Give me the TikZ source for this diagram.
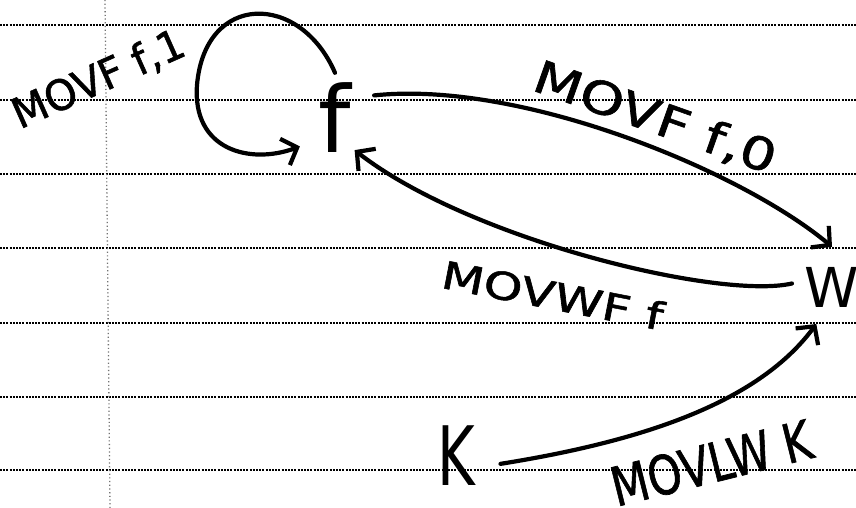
\documentclass[tikz,border=0pt]{standalone}
\usepackage{fontspec}
\usepackage{graphicx}
\setmainfont{DejaVu Sans}
\newfontfamily\hand[FakeBold=1.3]{DejaVu Sans}
\usetikzlibrary{arrows.meta}
\begin{document}
\begin{tikzpicture}[x=1pt,y=-1pt,
  ink/.style={line width=4.2pt, line cap=round, line join=round},
  pen/.style={ink, -{Straight Barb[length=13pt,width=28pt,line width=4.2pt]}},
  state/.style={circle, inner sep=0pt, minimum size=#1},
  rule/.style={line width=2.2pt, black, dash pattern=on 2pt off 1.2pt},
  margin/.style={line width=1.3pt, black!55, dash pattern=on 1.2pt off 2.5pt},
  lbl/.style={inner sep=0pt, anchor=base}]

% sheet of ruled paper
\fill[white] (0,0) rectangle (856,508);
\useasboundingbox (0,0) rectangle (856,508);
\foreach \yy in {25,100,174,248,323,397,470}
  \draw[rule] (0,\yy) -- (856,\yy);
\draw[margin] (105,0) -- (110,508);

% registers
\node[state=90, font=\fontsize{92}{92}\selectfont] (f) at (335,118) {f};
\node[state=80, font=\fontsize{55}{55}\selectfont] (W) at (832,287) {W};
\node[state=90, font=\fontsize{82}{82}\selectfont] (K) at (456,456) {\scalebox{0.7}[1]{K}};

% transfers
\draw[pen] (f.90) .. controls (300,-8) and (205,-8) .. (197,85)
                  .. controls (192,150) and (250,165) .. (f.219);
\draw[pen] (f.30) .. controls (520,80) and (740,170) .. (W.90);
\draw[pen, shorten >=-8pt] (W.175) .. controls (720,300) and (470,240) .. (f.-55);
\draw[pen] (K.-10) .. controls (650,440) and (760,400) .. (W.-113);

% instruction labels
\node[lbl, rotate=24] (lself) at (104,92)
  {\hand\fontsize{42}{42}\selectfont\scalebox{0.97}[1]{MOVF f,1}};
\node[lbl, rotate=-19.5] (lfw) at (650,132)
  {\hand\fontsize{45}{45}\selectfont\scalebox{1.25}[1]{MOVF f,0}};
\node[lbl, rotate=-11] (lwf) at (550,309)
  {\hand\fontsize{38}{38}\selectfont\scalebox{1.3}[1]{MOVWF f}};
\node[lbl, rotate=14] (lkw) at (716,482)
  {\hand\fontsize{54}{54}\selectfont\scalebox{0.8}[1]{MOVLW K}};
\end{tikzpicture}
\end{document}
